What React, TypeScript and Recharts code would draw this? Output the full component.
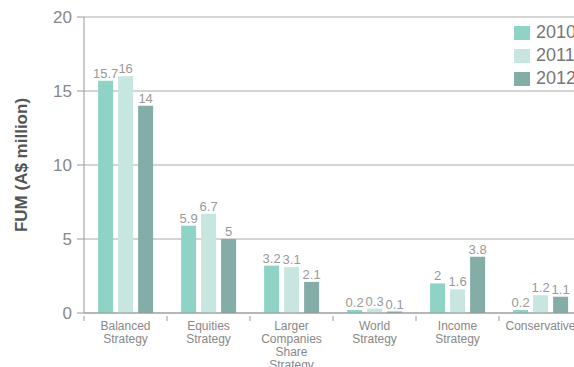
import React from "react";
import {
  BarChart,
  Bar,
  XAxis,
  YAxis,
  CartesianGrid,
  LabelList,
} from "recharts";

const categories = [
  "Balanced Strategy",
  "Equities Strategy",
  "Larger Companies Share Strategy",
  "World Strategy",
  "Income Strategy",
  "Conservative",
];
const tickLines = [
  ["Balanced", "Strategy"],
  ["Equities", "Strategy"],
  ["Larger", "Companies", "Share", "Strategy"],
  ["World", "Strategy"],
  ["Income", "Strategy"],
  ["Conservative"],
];
const fum2010 = [15.7, 5.9, 3.2, 0.2, 2, 0.2];
const fum2011 = [16, 6.7, 3.1, 0.3, 1.6, 1.2];
const fum2012 = [14, 5, 2.1, 0.1, 3.8, 1.1];
const yTicks = [0, 5, 10, 15, 20];

const series = [
  { key: "y2010", name: "2010", color: "#8ed3c6" },
  { key: "y2011", name: "2011", color: "#c7e6e0" },
  { key: "y2012", name: "2012", color: "#83ada6" },
];

const data = categories.map((c, i) => ({
  name: c,
  y2010: fum2010[i],
  y2011: fum2011[i],
  y2012: fum2012[i],
}));

const FONT = "'Liberation Sans', Arial, sans-serif";
const PLOT_W = 498;
const BAND = PLOT_W / categories.length;

function CategoryTick(props: any) {
  const { x, y, index } = props;
  const lines: string[] = tickLines[index] || [];
  const left = x - BAND / 2;
  return (
    <g>
      <line x1={left} x2={left} y1={y - 5} y2={y} stroke="#999" />
      <text x={x} y={y + 9} textAnchor="middle" fontSize={12} fill="#888" fontFamily={FONT}>
        {lines.map((l, i) => (
          <tspan key={i} x={x} dy={i === 0 ? 0 : 13}>
            {l}
          </tspan>
        ))}
      </text>
    </g>
  );
}

function YTitle(props: any) {
  const vb = props.viewBox || {};
  const cx = 21;
  const cy = vb.y + vb.height / 2;
  return (
    <text
      x={cx}
      y={cy}
      transform={`rotate(-90 ${cx} ${cy})`}
      textAnchor="middle"
      dominantBaseline="central"
      fontSize={17}
      fontWeight="bold"
      fill="#555"
      fontFamily={FONT}
    >
      FUM (A$ million)
    </text>
  );
}

export default function App() {
  return (
    <div
      style={{
        position: "absolute",
        left: 0,
        top: 0,
        width: 574,
        height: 367,
        overflow: "hidden",
        background: "#fff",
      }}
    >
      <BarChart
        width={600}
        height={367}
        data={data}
        margin={{ top: 17, right: 18, bottom: 0, left: 0 }}
        barCategoryGap="17%"
        barGap={5}
      >
        <CartesianGrid vertical={false} stroke="#aaa" />
        <XAxis
          dataKey="name"
          interval={0}
          height={54}
          stroke="#999"
          tickLine={false}
          tick={<CategoryTick />}
        />
        <YAxis
          width={84}
          domain={[0, 20]}
          ticks={yTicks}
          stroke="#999"
          tickSize={7}
          tickMargin={5}
          tick={{ fontSize: 17, fill: "#888", fontFamily: FONT }}
          label={<YTitle />}
        />
        {series.map((s) => (
          <Bar key={s.key} dataKey={s.key} name={s.name} fill={s.color} isAnimationActive={false}>
            <LabelList
              dataKey={s.key}
              position="top"
              offset={3}
              fontSize={13}
              fill="#999"
              fontFamily={FONT}
            />
          </Bar>
        ))}
      </BarChart>
      <div style={{ position: "absolute", left: 514, top: 21, fontFamily: FONT }}>
        {series.map((s) => (
          <div key={s.key} style={{ display: "flex", alignItems: "center", height: 23 }}>
            <div style={{ width: 16, height: 14, background: s.color, marginRight: 6 }} />
            <span style={{ fontSize: 18, color: "#777", whiteSpace: "nowrap" }}>{s.name}</span>
          </div>
        ))}
      </div>
    </div>
  );
}
